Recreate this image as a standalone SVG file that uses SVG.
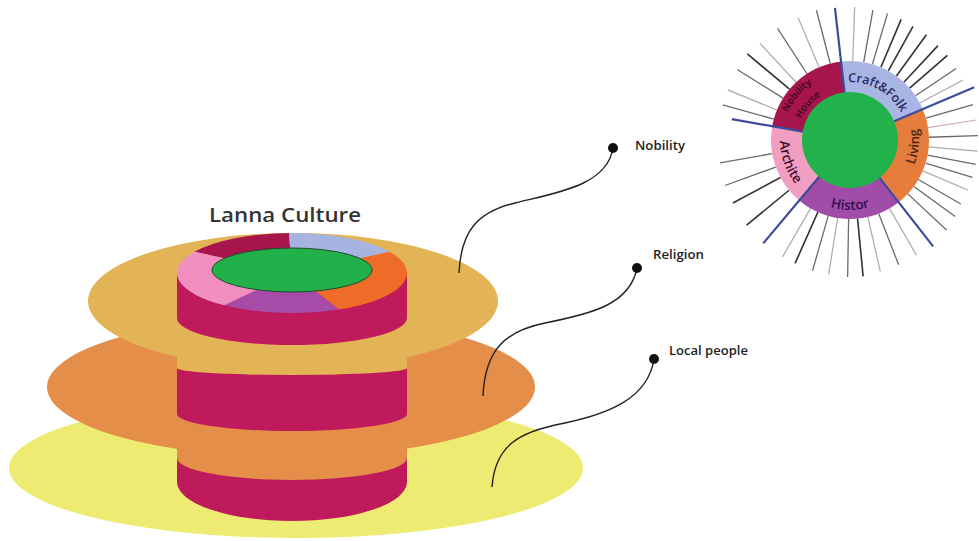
<svg xmlns="http://www.w3.org/2000/svg" xmlns:xlink="http://www.w3.org/1999/xlink" width="979" height="541" viewBox="0 0 979 541">
<style>
  .lbl{font-family:"Open Sans","Liberation Sans",Arial,sans-serif;font-size:13px;font-weight:600;fill:#1e1e1e}
  .conn{fill:none;stroke:#222;stroke-width:1.4}
  .dot{fill:#111}
  .ln{stroke:#6a6a6a;stroke-width:1.3}
  .ld{stroke:#333;stroke-width:1.6}
  .ll{stroke:#aaa;stroke-width:1.2}
  .lr{stroke:#d8a8a8;stroke-width:1.1}
  .lb{stroke:#3D4B9C;stroke-width:2.2}
  .rt{font-family:"Open Sans","Liberation Sans",Arial,sans-serif;font-weight:600}
  .magenta{fill:#BF1A5B}
</style>
<defs>
  <path id="pCraft" d="M-29,-50.23 A58,58 0 0 1 58,0"/>
  <path id="pLiving" d="M28.06,63.03 A69,69 0 0 0 40.56,-55.82"/>
  <path id="pHistor" d="M-60.62,35 A70,70 0 0 0 60.62,35"/>
  <path id="pArch" d="M-53.62,-45 A70,70 0 0 0 -12.16,68.94"/>
  <path id="pNob" d="M-63.9,23.26 A68,68 0 0 1 11.81,-66.97"/>
  <path id="pHouse" d="M-49.8,18.13 A53,53 0 0 1 9.2,-52.2"/>
</defs>
<rect width="979" height="541" fill="#ffffff"/>

<g id="plate-local"><ellipse cx="296" cy="468" rx="287" ry="70" fill="#EEEB72"/></g>
<g id="plate-religion"><ellipse cx="291" cy="387" rx="244" ry="70" fill="#E58E49"/></g>
<g id="plate-nobility"><ellipse cx="293" cy="301" rx="205" ry="68" fill="#E3B455"/></g>

<g id="cylinder">
  <path class="magenta" d="M177,273 L177,482 A115,39 0 0 0 407,482 L407,273 Z"/>
  <path fill="#E3B455" d="M177,318 A115,27 0 0 0 407,318 L407,368 A115,7 0 0 1 177,368 Z"/>
  <path fill="#E58E49" d="M177,414 A115,17 0 0 0 407,414 L407,458 A115,22 0 0 1 177,458 Z"/>
  <g transform="translate(292,273) scale(1.4557,0.5063)">
    <path fill="#A8144C" d="M0,0 L-66.99,-41.86 A79,79 0 0 1 -2.07,-78.97 Z"/>
    <path fill="#A7B3E0" d="M0,0 L-2.07,-78.97 A79,79 0 0 1 66.99,-41.86 Z"/>
    <path fill="#EE6B28" d="M0,0 L66.99,-41.86 A79,79 0 0 1 32.13,72.17 Z"/>
    <path fill="#A64BA8" d="M0,0 L32.13,72.17 A79,79 0 0 1 -46.44,63.91 Z"/>
    <path fill="#F190BF" d="M0,0 L-46.44,63.91 A79,79 0 0 1 -66.99,-41.86 Z"/>
  </g>
  <ellipse cx="292" cy="270" rx="80" ry="22" fill="#22B04B" stroke="#1d4d2a" stroke-width="1"/>
</g>

<g id="title"><text x="209" y="222" font-family="'Open Sans','Liberation Sans',sans-serif" font-weight="600" font-size="20" fill="#333" textLength="152" lengthAdjust="spacingAndGlyphs">Lanna Culture</text></g>

<g id="connectors">
  <path class="conn" d="M613,148 C607,186 555,193 515,203 C478,212 461,230 459,273"/>
  <path class="conn" d="M637,268 C630,305 590,314 545,323 C505,331 485,350 483,396"/>
  <path class="conn" d="M654,359 C648,398 610,414 560,424 C520,432 495,445 492,487"/>
</g>

<g id="label-nobility">
  <circle class="dot" cx="613" cy="148" r="5"/>
  <text class="lbl" x="635" y="150" textLength="50" lengthAdjust="spacingAndGlyphs">Nobility</text>
</g>
<g id="label-religion">
  <circle class="dot" cx="637" cy="268" r="5"/>
  <text class="lbl" x="653" y="259" textLength="51" lengthAdjust="spacingAndGlyphs">Religion</text>
</g>
<g id="label-local">
  <circle class="dot" cx="654" cy="359" r="5"/>
  <text class="lbl" x="669" y="355" textLength="79" lengthAdjust="spacingAndGlyphs">Local people</text>
</g>

<g id="sunburst" transform="translate(850,140)">
  <g id="rays">
    <line class="ln" x1="79" x2="132" transform="rotate(-164.6)"/>
    <line class="ll" x1="79" x2="132" transform="rotate(-157.7)"/>
    <line class="ln" x1="79" x2="133" transform="rotate(-148)"/>
    <line class="ld" x1="79" x2="134" transform="rotate(-140)"/>
    <line class="ll" x1="79" x2="132" transform="rotate(-133)"/>
    <line class="ln" x1="79" x2="133" transform="rotate(-123)"/>
    <line class="ll" x1="79" x2="133" transform="rotate(-113)"/>
    <line class="ln" x1="79" x2="134" transform="rotate(-104.5)"/>
    <line class="ll" x1="79" x2="133" transform="rotate(-88)"/>
    <line class="ln" x1="79" x2="132" transform="rotate(-80)"/>
    <line class="ln" x1="79" x2="132" transform="rotate(-73.5)"/>
    <line class="ld" x1="79" x2="131" transform="rotate(-67)"/>
    <line class="ld" x1="79" x2="130" transform="rotate(-61)"/>
    <line class="ld" x1="79" x2="130" transform="rotate(-54)"/>
    <line class="ld" x1="79" x2="129" transform="rotate(-47)"/>
    <line class="ld" x1="79" x2="129" transform="rotate(-41)"/>
    <line class="ln" x1="79" x2="128" transform="rotate(-34)"/>
    <line class="ll" x1="79" x2="128" transform="rotate(-28)"/>
    <line class="ln" x1="79" x2="128" transform="rotate(-16)"/>
    <line class="lr" x1="79" x2="128" transform="rotate(-9)"/>
    <line class="ln" x1="79" x2="128" transform="rotate(-2)"/>
    <line class="ll" x1="79" x2="128" transform="rotate(5)"/>
    <line class="ln" x1="79" x2="128" transform="rotate(11)"/>
    <line class="ln" x1="79" x2="128" transform="rotate(17)"/>
    <line class="ll" x1="79" x2="128" transform="rotate(23)"/>
    <line class="ln" x1="79" x2="128" transform="rotate(30)"/>
    <line class="ln" x1="79" x2="130" transform="rotate(36)"/>
    <line class="ln" x1="79" x2="132" transform="rotate(43)"/>
    <line class="ll" x1="79" x2="133" transform="rotate(60)"/>
    <line class="ln" x1="79" x2="134" transform="rotate(68.7)"/>
    <line class="ll" x1="79" x2="135" transform="rotate(77)"/>
    <line class="ld" x1="79" x2="137" transform="rotate(84.5)"/>
    <line class="ln" x1="79" x2="137" transform="rotate(91)"/>
    <line class="ll" x1="79" x2="136" transform="rotate(99)"/>
    <line class="ln" x1="79" x2="136" transform="rotate(106)"/>
    <line class="ld" x1="79" x2="135" transform="rotate(114)"/>
    <line class="ll" x1="79" x2="135" transform="rotate(120)"/>
    <line class="ld" x1="79" x2="134" transform="rotate(140.5)"/>
    <line class="ld" x1="79" x2="133" transform="rotate(151.7)"/>
    <line class="ln" x1="79" x2="133" transform="rotate(160)"/>
    <line class="ln" x1="79" x2="132" transform="rotate(170)"/>
  </g>
  <g id="ring">
    <path fill="#A6164C" d="M0,0 L-77.8,-13.72 A79,79 0 0 1 -8.94,-78.49 Z"/>
    <path fill="#A9B5E2" d="M0,0 L-8.94,-78.49 A79,79 0 0 1 72.72,-30.87 Z"/>
    <path fill="#E67D3D" d="M0,0 L72.72,-30.87 A79,79 0 0 1 48.64,62.25 Z"/>
    <path fill="#A14CA7" d="M0,0 L48.64,62.25 A79,79 0 0 1 -50.78,60.52 Z"/>
    <path fill="#F29DC2" d="M0,0 L-50.78,60.52 A79,79 0 0 1 -77.8,-13.72 Z"/>
    <circle r="48" fill="#21B24B"/>
  </g>
  <g id="boundaries">
    <line class="lb" x1="48" x2="120" transform="rotate(-170)"/>
    <line class="lb" x1="48" x2="133" transform="rotate(-96.5)"/>
    <line class="lb" x1="48" x2="135" transform="rotate(-23)"/>
    <line class="lb" x1="48" x2="135" transform="rotate(52)"/>
    <line class="lb" x1="48" x2="135" transform="rotate(130)"/>
  </g>
  <g id="ring-labels">
    <text class="rt" font-size="12.5" fill="#2B2A6A"><textPath xlink:href="#pCraft" href="#pCraft" startOffset="50%" text-anchor="middle">Craft&amp;Folk</textPath></text>
    <text class="rt" font-size="13" fill="#4a2410"><textPath xlink:href="#pLiving" href="#pLiving" startOffset="50%" text-anchor="middle">Living</textPath></text>
    <text class="rt" font-size="13.5" fill="#2e1050"><textPath xlink:href="#pHistor" href="#pHistor" startOffset="50%" text-anchor="middle">Histor</textPath></text>
    <text class="rt" font-size="13.5" fill="#3a1028"><textPath xlink:href="#pArch" href="#pArch" startOffset="50%" text-anchor="middle">Archite</textPath></text>
    <text class="rt" font-size="10" fill="#3a0818" text-anchor="middle"><textPath xlink:href="#pNob" href="#pNob" startOffset="50%">Nobility</textPath><textPath xlink:href="#pHouse" href="#pHouse" startOffset="50%">House</textPath></text>
  </g>
</g>
</svg>
